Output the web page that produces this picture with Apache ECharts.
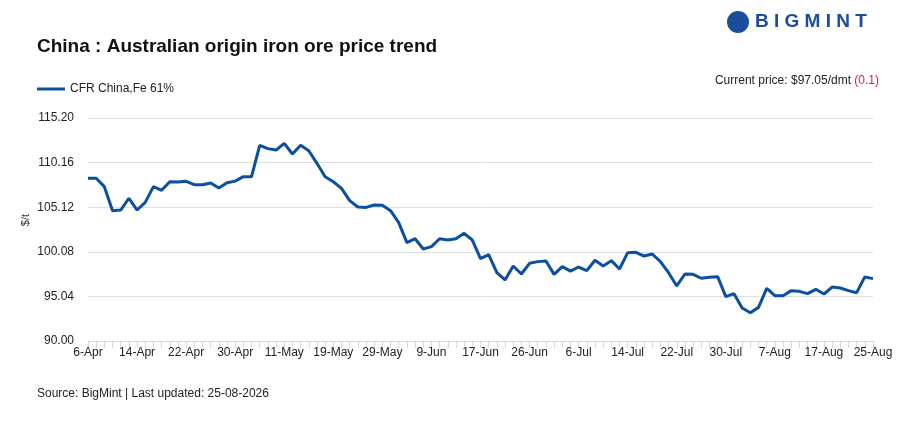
<!DOCTYPE html>
<html>
<head>
<meta charset="utf-8">
<script src="https://cdn.jsdelivr.net/npm/echarts@6/dist/echarts.min.js"></script>
<style>
body{margin:0;background:#fff;font-family:"Liberation Sans",Arial,sans-serif;}
#chart{width:907px;height:429px;}
</style>
</head>
<body>
<div id="chart"></div>
<script>
var dates = [
'6-Apr','7-Apr','8-Apr','9-Apr','10-Apr','13-Apr',
'14-Apr','15-Apr','16-Apr','17-Apr','20-Apr','21-Apr',
'22-Apr','23-Apr','24-Apr','27-Apr','28-Apr','29-Apr',
'30-Apr','4-May','5-May','6-May','7-May','8-May',
'11-May','12-May','13-May','14-May','15-May','18-May',
'19-May','20-May','21-May','22-May','26-May','27-May',
'29-May','2-Jun','3-Jun','4-Jun','5-Jun','8-Jun',
'9-Jun','10-Jun','11-Jun','12-Jun','15-Jun','16-Jun',
'17-Jun','18-Jun','22-Jun','23-Jun','24-Jun','25-Jun',
'26-Jun','29-Jun','30-Jun','1-Jul','2-Jul','3-Jul',
'6-Jul','7-Jul','8-Jul','9-Jul','10-Jul','13-Jul',
'14-Jul','15-Jul','16-Jul','17-Jul','20-Jul','21-Jul',
'22-Jul','23-Jul','24-Jul','27-Jul','28-Jul','29-Jul',
'30-Jul','31-Jul','3-Aug','4-Aug','5-Aug','6-Aug',
'7-Aug','10-Aug','11-Aug','12-Aug','13-Aug','14-Aug',
'17-Aug','18-Aug','19-Aug','20-Aug','21-Aug','24-Aug',
'25-Aug'];

var prices = [
108.39,108.39,107.44,104.73,104.80,106.13,104.80,105.67,107.44,107.03,
108.00,107.97,108.04,107.66,107.66,107.85,107.29,107.88,108.07,108.57,
108.57,112.11,111.74,111.58,112.34,111.13,112.11,111.50,110.08,108.57,
108.00,107.25,105.86,105.14,105.10,105.37,105.33,104.73,103.37,101.11,
101.56,100.40,100.66,101.56,101.41,101.56,102.17,101.41,99.30,99.75,
97.72,96.90,98.48,97.57,98.78,98.97,99.04,97.53,98.40,97.90,
98.36,97.95,99.12,98.48,99.08,98.14,99.98,100.02,99.60,99.83,
98.97,97.72,96.22,97.57,97.53,97.09,97.20,97.27,95.01,95.35,
93.73,93.20,93.80,95.95,95.12,95.12,95.69,95.61,95.35,95.84,
95.31,96.10,95.99,95.69,95.46,97.24,97.05];

var yMin = 90, yMax = 115.2, yStep = 5.04;
var seriesName = 'CFR China,Fe 61%';

var chart = echarts.init(document.getElementById('chart'));
chart.setOption({
  animation: false,
  textStyle: {fontFamily: 'Liberation Sans'},
  title: [
    {text: 'China : Australian origin iron ore price trend', left: 32, top: 32,
     textStyle: {fontSize: 19, fontWeight: 'bold', color: '#111'}},
    {text: 'Source: BigMint | Last updated: 25-08-2026', left: 32, top: 383,
     textStyle: {fontSize: 12, fontWeight: 'normal', color: '#222'}}
  ],
  graphic: [
    {type: 'circle', shape: {cx: 738, cy: 22, r: 11}, style: {fill: '#1a4d9c'}},
    {type: 'text', left: 755, top: 12, style: {text: 'B I G M I N T', fill: '#1a4d9c', font: 'bold 19px "Liberation Sans"'}},
    {type: 'text', right: 28, top: 75, style: {
      text: '{a|Current price: $97.05/dmt }{b|(0.1)}',
      rich: {a: {fontSize: 12, fill: '#222', fontFamily: 'Liberation Sans'},
             b: {fontSize: 12, fill: '#e0173c', fontFamily: 'Liberation Sans'}}}},
    {type: 'text', left: 20, top: 214, rotation: Math.PI / 2, style: {text: '$/t', fill: '#333', font: '11px "Liberation Sans"'}}
  ],
  legend: {left: 32, top: 78, itemWidth: 28, itemHeight: 3, icon: 'rect',
    textStyle: {fontSize: 12, color: '#222'}, data: [seriesName]},
  grid: {left: 88, right: 34, top: 118, bottom: 88},
  xAxis: {
    type: 'category', data: dates, boundaryGap: false,
    axisLine: {lineStyle: {color: '#d9d9d9'}},
    axisTick: {show: true, interval: 0, length: 7, lineStyle: {color: '#d9d9d9'}},
    axisLabel: {interval: 5, color: '#222', fontSize: 12, margin: 6, showMaxLabel: true}
  },
  yAxis: {
    type: 'value', min: 0, max: yMax - yMin, interval: yStep,
    axisLine: {show: false}, axisTick: {show: false},
    splitLine: {lineStyle: {color: '#e0e0e0'}},
    axisLabel: {color: '#222', fontSize: 12, margin: 14,
      formatter: function (v) { return (v + yMin).toFixed(2); }}
  },
  series: [{
    name: seriesName, type: 'line', showSymbol: false,
    data: prices.map(function (p) { return +(p - yMin).toFixed(2); }),
    lineStyle: {color: '#0b4fa0', width: 3}, itemStyle: {color: '#0b4fa0'}
  }]
});
</script>
</body>
</html>
